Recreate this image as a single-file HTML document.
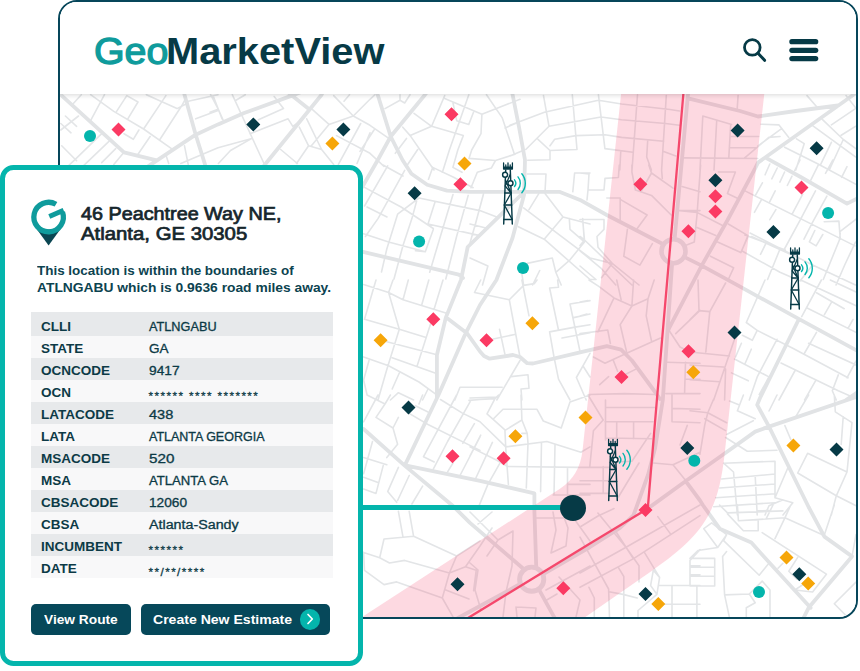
<!DOCTYPE html>
<html lang="en">
<head>
<meta charset="utf-8">
<title>GeoMarketView</title>
<style>
*{box-sizing:border-box;margin:0;padding:0}
html,body{width:860px;height:671px;background:#fff;overflow:hidden}
body{position:relative;font-family:"Liberation Sans",sans-serif;color:#0b3b47}
.frame{position:absolute;left:58px;top:0;width:800px;height:619px;border:2px solid #06465a;border-radius:19px;overflow:hidden;background:#fff}
.mapsvg{position:absolute;left:0;top:0;display:block}
.hdr{position:absolute;left:0;top:0;width:100%;height:92px;background:#fff;z-index:3;box-shadow:0 1px 5px rgba(0,0,0,.16)}
.logo{position:absolute;left:34px;top:29.4px;font-size:37.5px;line-height:40px;white-space:nowrap}
.logo span{display:inline-block;transform-origin:0 50%}
.logo .g{color:#0f9b9c;font-weight:400;transform:scaleX(1.049);-webkit-text-stroke:1.3px #0f9b9c}
.logo .m{color:#073a46;font-weight:700;position:absolute;left:72px;top:0;transform:scaleX(1.062)}
.ico{position:absolute;left:0;top:0}
.card{position:absolute;left:0;top:165px;width:363px;height:501px;border:5px solid #04b5ac;border-radius:13.5px;background:#fff;z-index:5}
.conn{position:absolute;left:360px;top:505px;width:213px;height:5px;background:#04b5ac;z-index:4}
.dot{position:absolute;left:559.8px;top:494.6px;width:26px;height:26px;border-radius:50%;background:#063a46;z-index:6}
.card>*{margin-left:1px}
.pin{position:absolute;left:0;top:0}
.title{position:absolute;left:74.8px;top:34.1px;font-size:17.8px;line-height:20.2px;font-weight:400;-webkit-text-stroke:.7px #16262c;color:#16262c;white-space:nowrap}
.title span,.desc span{display:inline-block;transform-origin:0 50%}
.desc{position:absolute;left:30.6px;top:91.6px;font-size:13px;line-height:17px;font-weight:700;color:#0c4350;white-space:nowrap}
.tbl{position:absolute;left:25px;top:142px;width:302px}
.row{height:22px;position:relative;background:#f8f8f9}
.row:nth-child(odd){background:#e7e9eb}
.row:first-child{height:24.2px}
.row b,.row span{position:absolute;bottom:-2.2px;line-height:22px;white-space:nowrap;color:#0c3a46;transform-origin:0 50%}
.row b{left:10.4px;font-size:12.4px;font-weight:700;transform:scaleX(1.09)}
.row span{left:117.6px;font-size:12px;-webkit-text-stroke:.3px #0c3a46}
.row span.st{letter-spacing:1.45px;bottom:-4.4px;font-size:11.6px}
.btn{position:absolute;top:434px;height:31px;border-radius:5px;background:#06485a;color:#fff;font-weight:700;font-size:13px;line-height:31px;white-space:nowrap}
.btn span{display:inline-block;transform-origin:0 50%}
.chev{position:absolute;left:158.6px;top:5.2px;width:20.6px;height:20.6px;border-radius:50%;background:#04b5ac}
</style>
</head>
<body>
<div class="frame">
<svg class="mapsvg" viewBox="60 2 796 615" width="796" height="615">
<defs><symbol id="tw" overflow="visible">
<g fill="none" stroke="#063a46" stroke-width="1.45" stroke-linecap="round" stroke-linejoin="round">
<path d="M-2.3 -54L-4.3 0M2.3 -54L4.3 0"/>
<path d="M-4.4 -61V-55H4.4V-61M0 -61V-55M-2.2 -59V-55M2.2 -59V-55" stroke-width="1.3"/>
<path d="M-4.4 -56.3H4.4" stroke-width="2.4" stroke-linecap="butt"/>
<path d="M-3.2 -31H3.2M-3.7 -19H3.7M-4.2 -4.5H4.2" />
<path d="M-2.6 -44L3.2 -31L-3.7 -19L4.2 -4.5M2.4 -50L-2.8 -38L3 -31" stroke-width="1.3"/>
<circle cx="-2.9" cy="-49.3" r="2.5" fill="#fff"/>
<circle cx="2.5" cy="-40.8" r="2.5" fill="#fff"/>
</g>
<path d="M6.48 -44.14A5.2 5.2 0 0 1 6.48 -37.46M10.01 -47.10A9.8 9.8 0 0 1 10.01 -34.50M13.84 -50.31A14.8 14.8 0 0 1 13.84 -31.29" fill="none" stroke="#04b5ac" stroke-width="1.4" stroke-linecap="round"/>
</symbol></defs>
<rect x="60" y="2" width="796" height="615" fill="#fff"/>
<g fill="none" stroke-linecap="round" stroke-linejoin="round">
<path stroke="#e3e5e7" stroke-width="1.6" d="M90.6 94.7 113.8 111.4 143.6 129 171.5 148.6M116.6 111.4 126.8 95.6 138 102 127.8 118.8M90.6 120.7 104.5 94.7M72.9 104 81.3 94.7M143.6 129 165.9 95.6M159.4 140.2 181.7 105.8 186 98M146.4 94.7 177 108.6 188 103M124 133.7 133.3 139.3 138.9 130M78.5 116 60.8 130M65.4 116 76.6 126.3M60.8 123.5 71 132.8M101.7 133.7 74.7 159.8 66 168M61.7 145.8 76.6 160.7M109.2 141.2 87.8 161.6 80 169M115.7 148.6 101.7 162.6M124 152.3 113.8 164.4M150.1 136.5 138 154.2M168.7 163.5 165.9 155.1M184.5 145.8 188.2 164.4M180.8 163.5 218 147.7 251.9 138.4M195.7 118.8 218 110.5M188.2 101.2 218 94.7M210.6 94.7 218 108.6 223 119.8M232.3 94.7 264 163.5M210 112.3 217.4 109.5M213.7 97.4 222 118.8M236 100.2 245.3 94.7M258.4 119.8 283.5 108.6 274.2 96.5M250 133.7 288.1 118.8 292.8 126.3 299 122M218.4 163.5 230.5 150.5 251.9 138.4M299.3 127.2 308.6 145.8 296.5 163.5M280.7 149.5 297.4 163.5M306.7 118.8 321.6 149.5 333.7 164.4M308.6 145.8 321.6 149.5M311.4 108.6 329 124.4 353.3 116 370 99.3 375 94.7M329 124.4 311.4 145.8M333.7 95.6 353.3 116 370 125.3 388.8 138.4M344 101.2 349.5 94.7M360.7 123.5 338.4 164.4M336.5 135.6 370 153.3 384 166.3M370 132.8 357 163.5M374 130 360 151.4M385 108.6 400 100.2 400 94.7M400 100.2 404.7 103 410 94.7M414 113.3 431.6 126.3 410.2 135.6M402.8 127.2 410.2 135.6 434 170M406.5 138.4 395.3 153.3M417.7 149.5 406.5 166.3M431.6 126.3 444.7 95.6M431.6 126.3 463.3 135.6 457.8 150M444.7 98.4 481.9 114.2 520 99.3M468.8 94.7 449.4 150M453 103 456.7 120.7 468.8 124.4 473.5 112.3M481.9 114.2 481 133.7 471.7 150M486.5 94.7 502.3 117.9 514.4 154.2M505 128 520 121.6M510 125.3 544.4 112.3 598.4 100.2 621.6 104 670 109.5 679.5 111M543.5 95.6 549 126.3 525.8 149.5M549 126.3 601 117 621.6 119.8 665.6 123.5 679.5 125.3M572.3 94.7 577 149.5 550 150.5 550 159.8 527.7 160.3M538 139.3 550 150.5M550 145.8 554.7 139.3 576 135.6 604.9 134.7 621.6 137.4 663.7 141.2M598.4 94.7 604.9 148.6 632.8 152.3M510 156 523 150.5M637.5 94.7 632 170 631.9 172M666.3 95.6 661.6 170 662.3 178.4M647.7 140.2 646.7 157 651.4 170M620.7 152.3 619.8 170M663.7 151.4 675.8 156M702.8 116 700 170M702.8 116 731.6 124.4M716.7 120.7 714 170M730.7 124.4 728.8 157.9M730.7 136.5 758.6 136.5M729.8 147.7 755.8 147.7M683.3 157.9 757.7 158.5M738.1 95.6 737.2 108.6M744.7 157.9 768.8 137.4 780 136.5M761 124.2 779 124.9 788.8 137.4M758 145.8 781.9 128.4M796.5 138.8 804.2 143.7 795.8 170M784.6 147.2 818.1 164 856.4 184.5M812.6 125.6 855.8 157M822.3 119.3 843.3 139.5 855.8 148.6M831.4 124.9 855.1 108.8M841.2 135.3 855.8 126.3M843.3 139.5 829.3 170M831.4 142.3 820.2 165.3M846 95.6 855.8 108.1M807 95.6 816.7 106.7M387.7 165.9 364.5 206M404.7 170.4 378 218.6 365.4 236.5M419 198 397.6 214.2 386.8 249 381.5 272M417.2 199 411.9 218.6 403 245.5 394 279M435.1 201.7 428 224M433.3 229.4 425.3 251.7 415.4 250.8M453 194.5 438.7 241.9 429.7 272.3M468.2 195.4 456.6 236.5 445.8 279M364.5 187.4 401.1 207 433.3 228.5M419 198 479.8 210.6 496.8 216.9M428 224 479.8 235.6M363.6 233.8 388.6 241.9 425.3 251.7M383 165 403 176M367 207 387 217M527.2 174 546 174 545 191.8M574.6 173 572.8 191.8M574.6 173 590 173M483.4 194.5 475.4 224 470 243M470 224 487.9 228.5M538.8 193.6 529 209.7M545 193.6 563 216.9 544.2 239.2M523.6 207.9 590 258 612.2 263.4M518.3 226.7 544.2 239.2 590 279.5 596 279.5M563 216.9 590 224M569.3 218.6 570 229.4 584.4 241.9M582.7 218.6 584.4 241.9 570 259.8 555.8 272.3M527.2 263.4 552.3 258 555.8 272.3 561.2 285M539.7 270.5 532.6 285M521.9 274 523.6 285M470 258 487.9 266 482.5 285M580 173 589 174 588 190 604 190 605 178.4 618.4 177.5 619.3 165M588 190 587 199.9M606.8 198 620.2 198 620.2 220.4M580 219.5 604 219.5 604 229.4 597 236.5 598 247.3 612.2 263.4M582.7 220.4 584.5 240 580 245.5M580 236.5 584.5 240 631.9 285M580 250.8 601.5 268.7 615.8 285M580 266 596 279.5M612.2 263.4 601.5 277.7M612.2 263.4 639 285M621.1 199.9 647.1 215 637.2 228.5M627.4 229.4 623.8 256.2 639.9 265.1 652.4 243.7M631.9 165 631.9 172 635.4 190 640.8 191.8M648.8 165 651.5 173 640.8 191.8M651.5 173 673 188.2M640.8 191.8 651.5 195.4 671.2 215M679.3 210.6 700 210.6M682 186.5 700 191.8M718.4 172 735.4 172 727.4 193.6 739 199M700.6 165 697 215 694.3 241.9 685.4 245.5M680 210.6 697 212.4 723 225.8M697 227.6 715.8 235.6M728.3 224 748 235.6M743.5 190.2 745 190.9M710.4 256.2 733.6 267.8 728.3 279.5M717.6 241.9 740.8 252.6 748 236.5M748 235.6 741.7 250.8 780 272.3 800 281 812.6 265M751.5 236.5 790.9 254.4M765.8 243.7 760.5 254.4M780 249 767.6 279.5M750 233 812.6 265 855.5 285M769.8 164 765.1 174.8M777.2 168 771.8 178.8M762.4 182.8 755.7 194.9M784.6 172 779.9 182.1M792 176.1 787.3 185.5M775.2 190.9 769.8 201.6M761.1 200.3 754.4 212.3M775.9 209.7 769.8 219.7M800 160 794.7 170.7M818.1 165.4 810.8 180.1M832.9 160 825.5 173.4M847 166.7 841.6 177.4M802.7 194.2 792 214.3M815.5 190.9 800 220.4 783.9 250M826.9 196.2 812.1 223.1 804 239.2M745 190.9 855 245.9M745 235.1 785.3 250M814.8 230.5 809.4 241.9 816.1 245.9 822.8 234.5M824.2 221.7 838.9 221.1 840.3 239.2M839.6 231.8 856.4 219M840.3 233 839.4 240 823.3 279.5M855.5 242 844.7 265 836 285M363.6 284.5 388.6 292.5 403 299.7 445.8 313M376 280 364.5 319.3M393 280 388.6 292.5M408.3 280 403 299.7M428.8 280 421.7 305M443 280 434 309.5M388.6 292.5 399.3 329.2 386.8 369.4 378 400M364.5 319.3 399.3 329.2 425.3 337.2M430.6 323.8 417.2 365.8M386.8 341.7 435 354.2M363.6 356.9 388.6 365.8 419 382 435 393.6M392.2 357.8 435 373M399.3 373 392.2 389M369 360.5 363.6 380 367 394.5M390.4 400 398.4 392.7 413.6 400M428 389 422.6 400M454.8 400 460 387.3 502.2 387.3M474.5 292.5 480.7 280M474.5 292.5 509.3 299.7 523.6 285.4 534.4 283.6 537 280M509.3 299.7 520 357M521.9 280 529 315.8M493.2 339 514.7 334.5M499.5 329.2 504.9 354.2M557.6 280 558.5 287.2 549.6 288 558.5 330M549.6 331.9 573.7 327.4 590 324.7M549.6 331.9 554 357 558.5 379.2 570 400M570 304 590 300.6M570 304 580 351.5M573.7 317.6 590 314M562 338 590 332.8M520 360.5 496.8 400M511 376.6 528 374.8 529 388.2 521 389 521.9 400M470 398 496.8 397M590 353.3 576.4 377.5 586.2 400M583 366 590 377M589 280 598.8 286.3 614 297.9 631.9 306 648 298.8 654.2 280M614 297.9 597.9 331.9M616.7 280 621.1 299.7M633.6 280 631.9 306 620.2 324.7 626.5 351.5M648 298.8 646.2 315.8 651.5 340.8M580 333.6 607.7 330 610.4 343.5M580 302 588 300.5M580 316 587 314M593.4 357 605 363.2 628.3 352.4 660.5 338M613 359.6 617.6 371.2M599.7 384.6 608.6 376.6M624.7 374.8 635.4 369.4M589 394.5 624.7 393.6 655 394.5M669.4 331 680 347 686 350M675.7 333.6 700 310.4M666.7 362.3 700 363.2M685.5 362.3 684.6 392.7M685.5 379.2 700 379.2M665.8 393.6 700 393.6M765 280 746.3 322.5M746.3 322.5 757.2 330.4 752.3 340.3 742.4 335.3M757.2 330.4 792.8 348.2 848 377.8M777 339.3 757.2 376.9 749.3 400M741.4 343.3 735.5 357M751.3 349.2 745.3 363M734.5 359 769 376.9 759.2 394.6M731.5 372.9 748.3 380.8M781 363 838.3 390.7 856 398.6M794.8 371 779 400M815.5 380.8 804.6 400M838.3 374.9 832.3 390.7 836.3 400M856 361 847 377.8M816.5 332.4 804.6 353M808.6 343.3 856 365M821.4 280 801.7 316.6M806.6 307.7 856 332.4M831.3 302.7 824.4 314.6M853 319.5 848 328.4M816.5 292.8 844.2 308.7M800.7 280 856 305.7M830.3 280 856 291.9M698 280 699 310.6 690 319.5M699 310.6 709.8 311.6 725.6 283M709.8 311.6 705.8 352M690 352 729.5 356M734.5 339.3 713.7 400M690 365 723.6 367M690 379.8 719.7 381.8M725.6 369 724.6 400M367 395 385 404 376 417.4 393 428 398.4 417.4M393 428 397.6 444.2 386.8 457.6M378 395 363.6 421.8M385 404 390.4 395M408.3 412.9 428 424.5 480 450.4M415.4 405.7 428 412M422.6 395 419 404M440.5 399.5 462 412.9 480 421.8 505.8 446.9M456.6 395 423.5 456.7 434.2 462M470.9 400.4 447.6 441.5 433.3 469.2M469 400.4 480 399.5 495 398.6M474.4 423.6 462.8 443.3M480 437 460 475.5M453 463 447.6 471.9M372.5 441.5 363.6 473.7M363.6 457.6 386.8 464.7M363.6 477.3 378 482.6M383.2 465.6 376 493.4 363.6 489M398.4 467.4 387.7 491.6 396.7 502.3M409.2 475.5 397.6 500.5M422.6 486.2 411.9 504M495 398.6 487 413.8 504.9 429.9 505.8 448.6 508.4 484.4M495 398.6 498.6 395M494 418.2 503 409.3 537 409.3 543.3 421 561.2 428 570 402 590 395M521 395 521.9 420 527.2 433.4 528 443.3 526.3 488M521.9 420 505.8 429.9M521.9 433.4 527.2 433.4M505.8 446.9 546.9 441.5 580.9 452.2 590 446.9M541.5 442.4 540.6 491.6M555 445 554 495M567.5 468.3 567.5 495M507.6 466.5 579 467.4M470 446.9 496.8 460.3 507.6 466.5M492.4 442.4 475.4 479M480.7 435.2 470 455.8M499.5 463.8 487.9 484.4 479 505.9M567.5 484.4 590 484.4M553.2 495 590 495M567.5 495 567.5 506M606 407.5 655 407.5M605 421.8 653 421.8M606 438 651.5 438.8M605.5 400 605.5 440M616.7 421.8 616.7 438.8M633.6 421.8 633.6 438.8M588 395 603.2 420 593.4 430.8 589.8 466.5M580 467.4 608.6 467.4M580 480.8 609.5 480.8M580 493.4 609.5 493.4M603.2 466.5 603.2 493.4M650.6 433.4 631.9 461.2 618.4 462M639 463 618.4 497M672 395 672 421.8 700 422.7M672 408.4 700 409.3M687.3 425.4 680 445M653.3 463 673 464.7 700 452.2M673 464.7 687.3 482.6M743.4 395 737.4 410.8 755.2 418.7M729.5 401 739.4 404.9M777 395 769 411M808.6 395 795.8 416.7M834.3 395 835.3 411.8 852 422.7 847 472 836.3 495.8 831.3 515M843.2 416.7 841.2 444.4M784.9 425.6 790.8 439.5M725.6 437.5 747.3 451.3 777 450.3M726.6 434.5 753.3 420.7M723.6 463.2 775 461.2 775 497.8M723.6 463.2 733.5 472 737.4 515M755.2 476 757.2 515M721.6 479 775 474M719.7 488 775 484M715.7 497.8 775 493.8M713.7 506.7 775 502.7M787.8 468 775 497.8 792.8 502.7 783 515M807.6 453.3 847 472M807.6 453.3 797.7 473 836.3 495.8 856 505.7M765 515 769 505.7 783 499.8M713.7 399 707.8 412.8 704.8 424.6 701.9 442.4 699.9 454.3M707.8 412.8 726.6 422.7M704.8 418.7 725.6 430.6M690 410.8 707.8 412.8M398.4 511.3 403 537.2 413.6 536.3 409.2 511.3M413.6 536.3 456.6 556 449.4 573 442.3 598 453 616.8M403 537.2 384 539 379.7 557.8 389.5 563 404.7 560.4 449.4 573M363.6 552.4 379.7 557.8M363.6 552.4 364.5 570.3 384 584.6 396.7 581.9 442.3 598M456.6 556 480 541M449.4 573 465.5 566.7 476.2 570.3 473.6 590.8M445.8 590 469 598.9M465.5 566.7 480 546 492 528M470 512 498 540 487 556M492 512 478 524M498 540 513 531 512 566 506 592 503 617M470 563 478 570 475 590 481 610M534 518 580 518M553 512 556 530 551 553 566 546 568 528 562 512M575 520 590 541M546 590 590 566M559 577 580 600 576 617M545 601 557 594M516 607 517 617M516 607 536 608 535 617M580 573 624.7 548 700 505M580 587.3 633.6 558.6 700 515.7M597.9 513 626.5 548 639 565.8 639 582M580 537.2 608.6 589 609.5 616.8M616.7 532.7 632.8 557.8M657.8 516.6 670.3 533.6M644.4 552.4 659.6 577.4M618.4 567.6 623.8 576.5 623.8 616.8M589 587.3 594.3 598 594.3 616.8M580 527 598 516 614 508.6M653.3 570.3 659.6 577.4 656.9 594.4 638 610.5 638 616.8M653.3 570.3 650.6 585.5 656.9 594.4M658.7 585.5 700 585.5M672 585.5 672 616.8M658.7 604.2 700 604.2M690 585.5 690 560.4 700 549.7M690 565.8 700 565.8M690 574.7 700 574.7M623 594.4 637.2 598M609 591.7 623 594.4M719.6 505 727.5 512.9 782.9 510.9M737.4 505 738.4 520.8 758.2 519.8 758.2 530.7 743.4 530.7 727.5 513.9M738.4 520.8 784.9 517.8 790.8 505M766.1 518.8 773 505M758.2 510.9 769 510.5M784.9 517.8 775 538.6M784.9 517.8 822.4 534.7M762.2 532.7 826.4 574.2 812.6 592M782.9 563.3 778 568.3M797.7 557.4 788.8 571.2 796.7 579.1M803.7 584.1 794.8 590 812.6 592M834.3 505 824.4 534.7M703.8 528.7 711.7 522.8 726.6 534.7 717.7 547.5 703.8 528.7M726.6 534.7 723.6 540.6 759.2 575.2 768.1 564.3M717.7 547.5 697.9 550.5 690 558.4M690 558.4 714.7 558.4 714.7 586 690 586M690 567.3 714.7 567.3M690 576.2 714.7 576.2M726.6 551.5 722.6 556.4 724.6 594.9 749.3 594 762.2 581.1 770 590 770 617.7M749.3 594 755.2 602.8 746.3 607.8 746.3 617.7M724.6 594.9 729.5 617.7M696.9 586 696.9 617.7M856 582 834.3 603.8 848.1 617.7M852 556.4 856 534.6M432.7 167.4 428.5 179.3M432.7 167.4 453.6 177.2 473.1 187.7M449.4 150 442.4 172.3M457.8 150 452.9 167.4 462 172.3M471.7 150 469 158.4 495.5 160.5 515 154.2M495.5 160.5 491.3 168.1 477.3 172.3 471 187.7M483.5 193.6 474.6 227.2"/>
<path stroke="#e1e3e5" stroke-width="3.8" d="M58 92 61.7 95.6 124 152.3 154.7 159.8M140 172 151 164.4 195.7 134.7 218 124.4 243.5 113.3 291.9 95.6 300 92.5M184 92 184.5 94.7 195.7 134.7 205 164.4 207 172M323 92 321.6 94.7 265.8 163.5 259 172M288 92 291.9 95.6 309.5 109.5M377 92 377.7 94.7 390.7 136.5 402.5 160 411.4 173.8 427.2 184.7 447 190.6 470 191.8 559.4 191.8 580 199.9 606.8 215 662.3 243.7M427 92 425 94.7 390.7 136.5 377.8 160 363 185.7 355 198M512 92 512.8 95.6 519 127 525 160 524 195 512.5 238 496.4 280 480 305 465.5 333.6 438.7 394.5 404.7 465.6M521 195 467.7 247 461 280 445.8 317.6 436.9 355 436.9 398M363 251.9 458.8 274.6 463 278M447.6 318.4 467.3 333.6 480 351.5 484 356 489.7 358.7 513 355 520 357 527.2 363.2 533 363.5 580 352.4 606.8 346.2 621.1 349.7 631.9 360.5 656.9 394.5 660 399M688.2 92 674.8 237M672 265 662.8 400 655 448.6 648 475 640.8 495 633.6 515 620 528 590 547 545 573M518.3 585 470 611.5 458 618M685.6 257.6 701.7 265.6 741.9 287.7 798.7 318.8 856 350.2 860 352M856 93 758 162.6 755 168.6 727.6 220 701.7 265.6 669.5 327.3 667.5 332M688 98.4 740 111 758 116.5 795.8 111 838 105.5M766 157.9 801.5 177.5 847 203.6 857 198.5M798.7 319.5 760 398 757.2 404.9 769 426.6 808.6 507 824.4 536.6 852 556.4 808.6 607.8 803 619M856 397 769 426.6 755.2 431.6 723.6 454.3 690 478 651.5 505.9 645 510M685.5 480.8 700 500.5 702.8 505 719.7 528.7 751.3 542.6 769 562.3 810.6 607.8M363.6 429 404.7 465.6 453 506 470 522.9 522.5 568M406.5 465.6 480 480.8 534.4 493.4 534.4 511 536.2 566M539.7 590.8 554 616.8 556 620M846 400 858 392"/>
<circle cx="673.5" cy="251.2" r="12" stroke="#e3e5e7" stroke-width="4.6" fill="#fff"/>
<circle cx="531.7" cy="579.2" r="12.1" stroke="#e3e5e7" stroke-width="4.9" fill="#fff"/>
</g>
<path d="M621.5 90L582.6 450Q579.8 475.8 560 488.7L363.6 615.9L355 621L579 621.5L585.4 617L652 570.7C703.7 534.8 718.2 511.6 724.5 455L764.7 90z" fill="#f7446b" fill-opacity="0.205"/>
<path d="M683.7 90 657.3 395 648 505.9 645.5 509.9 590 543.4 470 616.8 460 623" fill="none" stroke="#f5486c" stroke-width="2.3" stroke-linejoin="round"/>
<path fill="#fb3a63" d="M118.5 122.4l7 7l-7 7l-7 -7zM451.5 107.2l7 7l-7 7l-7 -7zM460.4 177.3l7 7l-7 7l-7 -7zM640.4 177.3l7 7l-7 7l-7 -7zM715.4 189.3l7 7l-7 7l-7 -7zM715.4 204.5l7 7l-7 7l-7 -7zM688.4 224.2l7 7l-7 7l-7 -7zM801.5 180.4l7 7l-7 7l-7 -7zM433.3 312.3l7 7l-7 7l-7 -7zM486.5 333.3l7 7l-7 7l-7 -7zM621.5 370.1l7 7l-7 7l-7 -7zM688.5 344.2l7 7l-7 7l-7 -7zM452.5 449.3l7 7l-7 7l-7 -7zM503.6 451.3l7 7l-7 7l-7 -7zM645.5 502.9l7 7l-7 7l-7 -7zM563.3 581.2l7 7l-7 7l-7 -7z"/>
<path fill="#063a46" d="M253.3 117.4l7 7l-7 7l-7 -7zM343.4 122.4l7 7l-7 7l-7 -7zM414.6 186.2l7 7l-7 7l-7 -7zM737.6 123.4l7 7l-7 7l-7 -7zM816.6 141.3l7 7l-7 7l-7 -7zM715.4 173.2l7 7l-7 7l-7 -7zM773.4 225.1l7 7l-7 7l-7 -7zM734.5 325.4l7 7l-7 7l-7 -7zM408.5 400.5l7 7l-7 7l-7 -7zM687.3 441.1l7 7l-7 7l-7 -7zM836.5 442.4l7 7l-7 7l-7 -7zM457.5 577.2l7 7l-7 7l-7 -7zM645.5 587l7 7l-7 7l-7 -7zM799.3 567.2l7 7l-7 7l-7 -7z"/>
<path fill="#f6a609" d="M332.4 136.4l7 7l-7 7l-7 -7zM464.5 156.4l7 7l-7 7l-7 -7zM532.4 316.3l7 7l-7 7l-7 -7zM380.6 333.3l7 7l-7 7l-7 -7zM693.3 365.2l7 7l-7 7l-7 -7zM515.4 429.3l7 7l-7 7l-7 -7zM585.5 410.4l7 7l-7 7l-7 -7zM793.4 438.4l7 7l-7 7l-7 -7zM658.3 596.9l7 7l-7 7l-7 -7zM786.5 550.4l7 7l-7 7l-7 -7zM808.2 576.5l7 7l-7 7l-7 -7z"/>
<g fill="#04b5ac"><circle cx="90" cy="136" r="6"/><circle cx="419.1" cy="241.6" r="6"/><circle cx="523" cy="267.9" r="6"/><circle cx="828.1" cy="212.9" r="6"/><circle cx="694.3" cy="460.8" r="6"/><circle cx="759" cy="592" r="6"/></g>
<use href="#tw" x="508" y="224"/>
<use href="#tw" x="795" y="309"/>
<use href="#tw" x="613" y="500.5"/>
</svg>
  <div class="hdr">
    <div class="logo"><span class="g" id="lg">Geo</span><span class="m" id="lm">MarketView</span></div>
    <svg class="ico" width="796" height="91" viewBox="60 2 796 91">
      <circle cx="752.3" cy="47.4" r="7.8" fill="none" stroke="#063a46" stroke-width="2.8"/>
      <path d="M758 53.3L764.6 60.3" stroke="#063a46" stroke-width="3" stroke-linecap="round"/>
      <g fill="#063a46"><rect x="789.3" y="39.1" width="29" height="5.2" rx="2.6"/><rect x="789.3" y="47.7" width="29" height="5.2" rx="2.6"/><rect x="789.3" y="56" width="29" height="5.2" rx="2.6"/></g>
    </svg>
  </div>
</div>
<div class="conn"></div>
<div class="dot"></div>
<div class="card">
  <svg class="pin" width="100" height="100" viewBox="6 170 100 100">
    <path d="M37 229.5L60.2 229.5L48.6 245.4z" fill="#0a4652"/>
    <path d="M56 204.3A14.75 14.75 0 1 0 62.5 212.1" fill="none" stroke="#0f9b9c" stroke-width="5.3"/>
    <path d="M63.6 210.2L49.3 216.6" stroke="#0f9b9c" stroke-width="4.9"/>
  </svg>
  <div class="title"><span id="t1" style="transform:scaleX(1.112)">46 Peachtree Way NE,</span><br><span id="t2" style="transform:scaleX(1.144)">Atlanta, GE 30305</span></div>
  <div class="desc"><span id="d1" style="transform:scaleX(1.033)">This location is within the boundaries of</span><br><span id="d2" style="transform:scaleX(1.062)">ATLNGABU which is 0.9636 road miles away.</span></div>
  <div class="tbl">
    <div class="row"><b>CLLI</b><span style="transform:scaleX(1.059)">ATLNGABU</span></div>
    <div class="row"><b>STATE</b><span style="transform:scaleX(1.128)">GA</span></div>
    <div class="row"><b>OCNCODE</b><span style="transform:scaleX(1.144)">9417</span></div>
    <div class="row"><b>OCN</b><span class="st">****** **** *******</span></div>
    <div class="row"><b>LATACODE</b><span style="transform:scaleX(1.211)">438</span></div>
    <div class="row"><b>LATA</b><span style="transform:scaleX(1.041)">ATLANTA GEORGIA</span></div>
    <div class="row"><b>MSACODE</b><span style="transform:scaleX(1.268)">520</span></div>
    <div class="row"><b>MSA</b><span style="transform:scaleX(1.092)">ATLANTA GA</span></div>
    <div class="row"><b>CBSACODE</b><span style="transform:scaleX(1.142)">12060</span></div>
    <div class="row"><b>CBSA</b><span style="transform:scaleX(1.19)">Atlanta-Sandy</span></div>
    <div class="row"><b>INCUMBENT</b><span class="st">******</span></div>
    <div class="row"><b>DATE</b><span class="st">**/**/****</span></div>
  </div>
  <div class="btn" style="left:25px;width:100px"><span id="b1" style="margin-left:13.4px;transform:scaleX(1.056)">View Route</span></div>
  <div class="btn" style="left:135px;width:189px"><span id="b2" style="margin-left:11.8px;transform:scaleX(1.081)">Create New Estimate</span><div class="chev"><svg width="20" height="20" viewBox="0 0 20 20"><path d="M8 5.5L12.3 10L8 14.5" fill="none" stroke="#fff" stroke-width="1.7" stroke-linecap="round" stroke-linejoin="round"/></svg></div></div>
</div>
</body>
</html>
